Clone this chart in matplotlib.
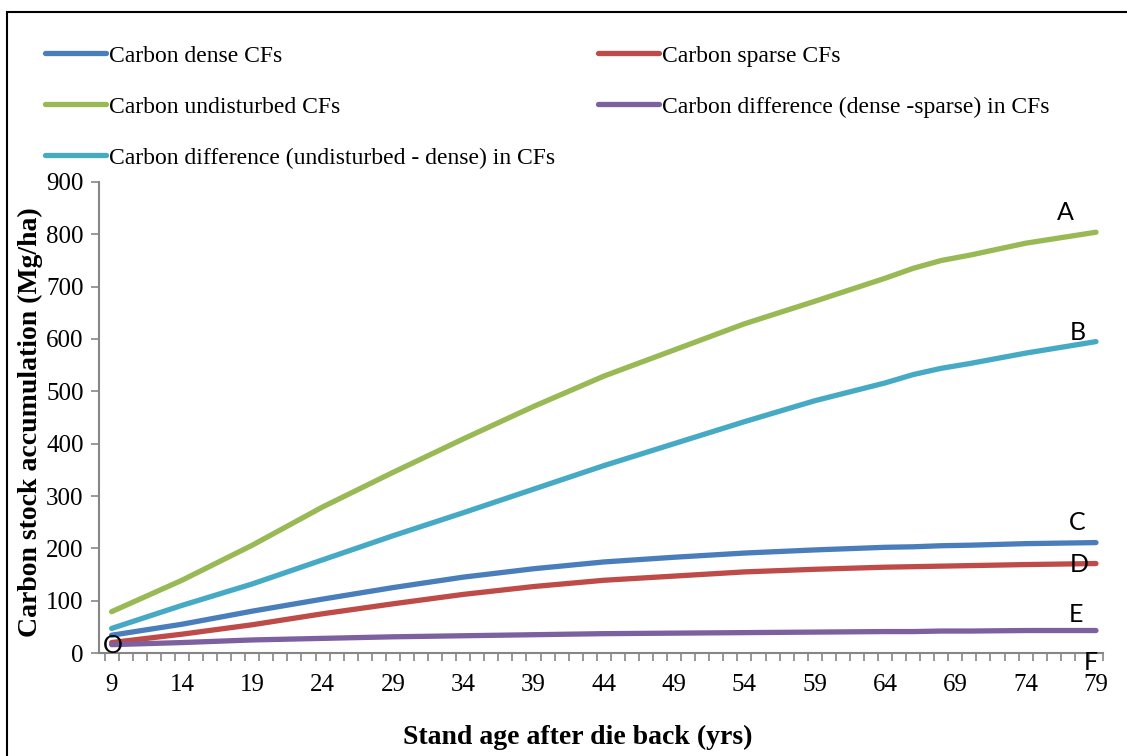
import numpy as np
import matplotlib
matplotlib.use('Agg')
import matplotlib.pyplot as plt
from matplotlib.patches import Rectangle

# data (Mg/ha)
age = [9, 14, 19, 24, 29, 34, 39, 44, 49, 54, 59, 64, 66, 68, 70, 74, 79]
dense = [34, 55, 80, 103, 125, 145, 161, 174, 183, 191, 197, 202, 203, 205, 206, 209, 211]
sparse = [20, 36, 54, 75, 94, 112, 127, 139, 147, 155, 160, 164, 165, 166, 167, 169, 171]
undisturbed = [79, 139, 206, 279, 345, 409, 471, 529, 579, 629, 672, 716, 735, 750, 760, 783, 804]
diff_dense_sparse = [16, 20, 25, 28, 31, 33, 35, 37, 38, 39, 40, 41, 41, 42, 42, 43, 43]
diff_undist_dense = [47, 91, 132, 178, 224, 268, 313, 358, 400, 442, 482, 516, 532, 544, 553, 573, 595]

xticks = list(range(9, 80, 5))
yticks = list(range(0, 901, 100))

serif = 'Liberation Serif'

fig = plt.figure(figsize=(11.27, 7.56), dpi=100)
ax = fig.add_axes([0.0878, 0.1362, 0.8909, 0.6231])

lw = 3.8
l_dense, = ax.plot(age, dense, color='#4A7EBB', lw=lw, solid_capstyle='round', label='Carbon dense CFs')
l_sparse, = ax.plot(age, sparse, color='#BE4B48', lw=lw, solid_capstyle='round', label='Carbon sparse CFs')
l_und, = ax.plot(age, undisturbed, color='#98B954', lw=lw, solid_capstyle='round', label='Carbon undisturbed CFs')
l_ds, = ax.plot(age, diff_dense_sparse, color='#7D60A0', lw=lw, solid_capstyle='round',
                label='Carbon difference (dense -sparse) in CFs')
l_ud, = ax.plot(age, diff_undist_dense, color='#46AAC5', lw=lw, solid_capstyle='round',
                label='Carbon difference (undisturbed - dense) in CFs')

ax.set_xlim(8.1, 79.5)
ax.set_ylim(0, 900)
ax.set_xticks(xticks)
ax.set_xticks(np.arange(8.5, 80, 1), minor=True)
ax.set_yticks(yticks)
ax.tick_params(axis='x', which='major', length=0, pad=15, labelsize=18)
ax.tick_params(axis='x', which='minor', length=6, width=1.2, color='#868686', direction='out')
ax.tick_params(axis='y', length=6, width=1.2, color='#868686', direction='out', labelsize=18, pad=5)
for lab in ax.get_xticklabels() + ax.get_yticklabels():
    lab.set_family(serif)
for s in ['top', 'right']:
    ax.spines[s].set_visible(False)
for s in ['left', 'bottom']:
    ax.spines[s].set_color('#868686')
    ax.spines[s].set_linewidth(1.5)

# curve letters
letters = [('A', 76.8, 842), ('B', 77.7, 613), ('C', 77.7, 250), ('D', 77.8, 170),
           ('E', 77.6, 74), ('F', 78.6, -19), ('O', 9.1, 15)]
for t, xx, yy in letters:
    ax.text(xx, yy, t, family='Lato', fontsize=18, ha='center', va='center', clip_on=False)

# legends
leg_kw = dict(frameon=False, prop={'family': serif, 'size': 17}, handlelength=2.6,
              handletextpad=0.1, labelspacing=1.25, borderaxespad=0, borderpad=0)
leg1 = fig.legend(handles=[l_dense, l_und, l_ud], loc='upper left',
                  bbox_to_anchor=(45 / 1127, 1 - 45 / 756), **leg_kw)
leg2 = fig.legend(handles=[l_sparse, l_ds], loc='upper left',
                  bbox_to_anchor=(598 / 1127, 1 - 45 / 756), **leg_kw)

fig.text(578 / 1127, 1 - 737 / 756, 'Stand age after die back (yrs)', family=serif,
         fontsize=20, fontweight='bold', ha='center', va='center')
fig.text(30 / 1127, 1 - 422 / 756, 'Carbon stock accumulation (Mg/ha)', family=serif,
         fontsize=20, fontweight='bold', ha='center', va='center', rotation=90)

# outer chart frame
fig.patches.append(Rectangle((7 / 1127, -0.05), 1.1, 1 - 12 / 756 + 0.05, transform=fig.transFigure,
                             fill=False, edgecolor='black', lw=1.5))

fig.savefig('out.png', dpi=100)
